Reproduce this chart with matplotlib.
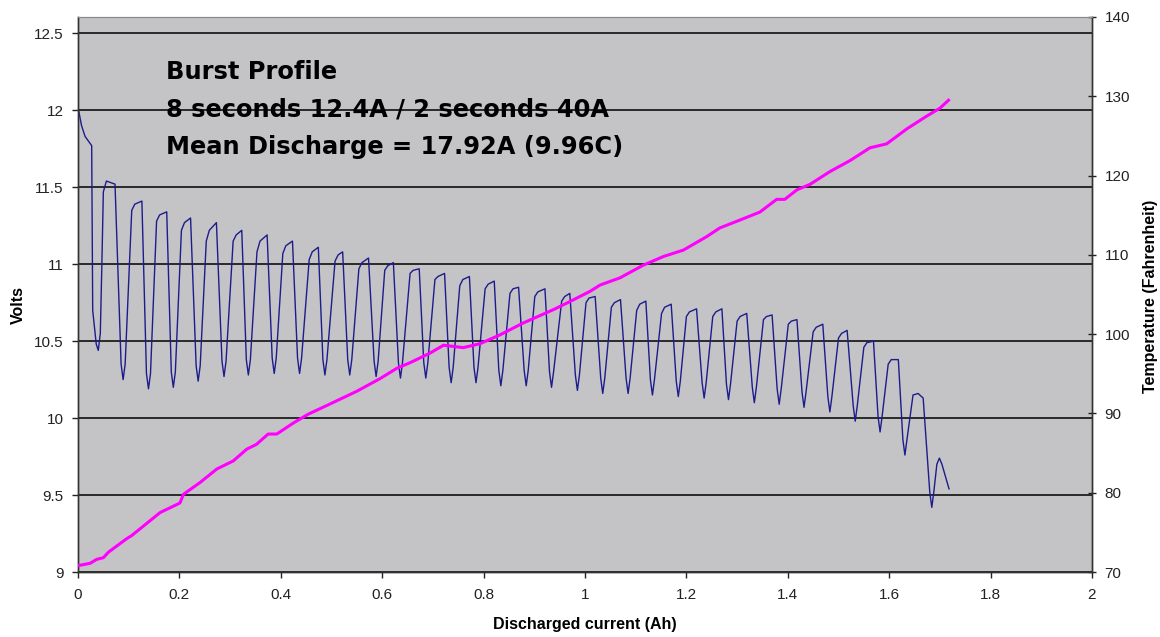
import matplotlib
matplotlib.use("Agg")
import matplotlib.pyplot as plt

# voltage trace (Ah, volts), one burst cycle per line
volt_ah = [0.000, 0.007, 0.014, 0.027, 0.029, 0.036, 0.040, 0.044, 0.047, 0.050, 0.056, 0.073,
           0.085, 0.089, 0.093, 0.106, 0.112, 0.126,
           0.135, 0.139, 0.143, 0.155, 0.161, 0.175,
           0.184, 0.188, 0.192, 0.204, 0.210, 0.222,
           0.233, 0.237, 0.241, 0.253, 0.259, 0.273,
           0.284, 0.288, 0.292, 0.306, 0.312, 0.323,
           0.332, 0.336, 0.340, 0.353, 0.359, 0.373,
           0.383, 0.387, 0.391, 0.404, 0.410, 0.423,
           0.433, 0.437, 0.441, 0.456, 0.462, 0.474,
           0.483, 0.487, 0.491, 0.507, 0.513, 0.522,
           0.532, 0.536, 0.540, 0.554, 0.560, 0.573,
           0.584, 0.588, 0.592, 0.605, 0.611, 0.622,
           0.632, 0.636, 0.640, 0.655, 0.661, 0.673,
           0.682, 0.686, 0.690, 0.704, 0.710, 0.723,
           0.732, 0.736, 0.740, 0.753, 0.759, 0.772,
           0.781, 0.785, 0.789, 0.803, 0.809, 0.821,
           0.830, 0.834, 0.838, 0.852, 0.858, 0.869,
           0.880, 0.884, 0.888, 0.901, 0.907, 0.921,
           0.930, 0.934, 0.938, 0.954, 0.960, 0.970,
           0.981, 0.985, 0.989, 1.002, 1.008, 1.020,
           1.031, 1.035, 1.039, 1.052, 1.058, 1.070,
           1.081, 1.085, 1.089, 1.102, 1.108, 1.120,
           1.129, 1.133, 1.137, 1.151, 1.157, 1.170,
           1.180, 1.184, 1.188, 1.200, 1.206, 1.220,
           1.231, 1.235, 1.239, 1.252, 1.258, 1.270,
           1.279, 1.283, 1.287, 1.300, 1.306, 1.319,
           1.330, 1.334, 1.338, 1.352, 1.358, 1.369,
           1.379, 1.383, 1.387, 1.401, 1.407, 1.418,
           1.428, 1.432, 1.436, 1.450, 1.456, 1.469,
           1.479, 1.483, 1.487, 1.500, 1.506, 1.517,
           1.529, 1.533, 1.537, 1.550, 1.556, 1.569,
           1.578, 1.582, 1.586, 1.598, 1.604, 1.618,
           1.627, 1.631, 1.635, 1.647, 1.657, 1.667,
           1.680, 1.684, 1.688, 1.694, 1.699, 1.704, 1.718]
volts = [12.02, 11.90, 11.83, 11.77, 10.70, 10.48, 10.44, 10.55, 10.99, 11.47, 11.54, 11.52,
         10.35, 10.25, 10.35, 11.35, 11.39, 11.41,
         10.29, 10.19, 10.29, 11.28, 11.32, 11.34,
         10.30, 10.20, 10.30, 11.22, 11.27, 11.30,
         10.34, 10.24, 10.34, 11.15, 11.22, 11.27,
         10.37, 10.27, 10.37, 11.15, 11.19, 11.22,
         10.38, 10.28, 10.38, 11.08, 11.15, 11.19,
         10.39, 10.29, 10.39, 11.07, 11.12, 11.15,
         10.39, 10.29, 10.39, 11.03, 11.08, 11.11,
         10.38, 10.28, 10.38, 11.02, 11.06, 11.08,
         10.38, 10.28, 10.38, 10.97, 11.01, 11.04,
         10.37, 10.27, 10.37, 10.96, 10.99, 11.01,
         10.36, 10.26, 10.36, 10.94, 10.96, 10.97,
         10.36, 10.26, 10.36, 10.90, 10.92, 10.94,
         10.33, 10.23, 10.33, 10.86, 10.90, 10.92,
         10.33, 10.23, 10.33, 10.84, 10.87, 10.89,
         10.31, 10.21, 10.31, 10.81, 10.84, 10.85,
         10.31, 10.21, 10.31, 10.79, 10.82, 10.84,
         10.30, 10.20, 10.30, 10.76, 10.79, 10.81,
         10.28, 10.18, 10.28, 10.75, 10.78, 10.79,
         10.26, 10.16, 10.26, 10.72, 10.75, 10.77,
         10.26, 10.16, 10.26, 10.70, 10.74, 10.76,
         10.25, 10.15, 10.25, 10.68, 10.72, 10.74,
         10.24, 10.14, 10.24, 10.66, 10.69, 10.71,
         10.23, 10.13, 10.23, 10.66, 10.69, 10.71,
         10.22, 10.12, 10.22, 10.63, 10.66, 10.68,
         10.20, 10.10, 10.20, 10.64, 10.66, 10.67,
         10.19, 10.09, 10.19, 10.61, 10.63, 10.64,
         10.17, 10.07, 10.17, 10.56, 10.59, 10.61,
         10.14, 10.04, 10.14, 10.52, 10.55, 10.57,
         10.08, 9.98, 10.08, 10.46, 10.49, 10.50,
         10.01, 9.91, 10.01, 10.35, 10.38, 10.38,
         9.86, 9.76, 9.86, 10.15, 10.16, 10.13,
         9.52, 9.42, 9.52, 9.70, 9.74, 9.70, 9.54]

# temperature trace (Ah, deg F)
temp_ah = [0.000, 0.024, 0.037, 0.050, 0.060, 0.096, 0.106, 0.162, 0.201, 0.208,
           0.241, 0.274, 0.306, 0.333, 0.352, 0.375, 0.392, 0.425, 0.454, 0.494,
           0.550, 0.596, 0.629, 0.655, 0.694, 0.721, 0.760, 0.793, 0.832, 0.878,
           0.938, 0.970, 1.010, 1.030, 1.069, 1.115, 1.155, 1.194, 1.240, 1.266,
           1.306, 1.345, 1.378, 1.394, 1.418, 1.444, 1.483, 1.523, 1.562, 1.595,
           1.635, 1.674, 1.700, 1.717]
temp_f = [70.8, 71.1, 71.6, 71.8, 72.5, 74.2, 74.6, 77.5, 78.7, 79.8,
          81.3, 83.0, 84.0, 85.5, 86.1, 87.4, 87.4, 88.8, 89.9, 91.1,
          92.8, 94.4, 95.7, 96.4, 97.6, 98.6, 98.3, 98.8, 99.9, 101.4,
          103.1, 104.1, 105.4, 106.2, 107.1, 108.7, 109.8, 110.6, 112.3, 113.4,
          114.4, 115.4, 117.0, 117.0, 118.2, 118.9, 120.5, 121.9, 123.5, 124.0,
          125.9, 127.5, 128.5, 129.5]

x_ticks = [0, 0.2, 0.4, 0.6, 0.8, 1.0, 1.2, 1.4, 1.6, 1.8, 2.0]
x_labels = ["0", "0.2", "0.4", "0.6", "0.8", "1", "1.2", "1.4", "1.6", "1.8", "2"]
v_ticks = [9, 9.5, 10, 10.5, 11, 11.5, 12, 12.5]
v_labels = ["9", "9.5", "10", "10.5", "11", "11.5", "12", "12.5"]
t_ticks = [70, 80, 90, 100, 110, 120, 130, 140]

title_lines = ["Burst Profile",
               "8 seconds 12.4A / 2 seconds 40A",
               "Mean Discharge = 17.92A (9.96C)"]

plt.rcParams["font.family"] = ["Liberation Sans", "DejaVu Sans"]

fig = plt.figure(figsize=(11.6, 6.37), dpi=100)
ax = fig.add_axes([78 / 1160, 65 / 637, (1092 - 78) / 1160, (572 - 17) / 637])
ax.set_facecolor("#c4c3c6")

ax.plot(volt_ah, volts, color="#1c1c8c", linewidth=1.0, zorder=3)
ax.set_xlim(0, 2)
ax.set_ylim(9, 12.606)
ax.set_xticks(x_ticks)
ax.set_xticklabels(x_labels)
ax.set_yticks(v_ticks)
ax.set_yticklabels(v_labels)
ax.yaxis.grid(True, color="black", linewidth=1.1)
ax.set_axisbelow(True)
ax.tick_params(axis="y", direction="out", length=4.5, width=1, pad=6,
               labelsize=11, colors="#222222")
ax.tick_params(axis="x", direction="out", length=4.5, width=1, pad=7,
               labelsize=11, colors="#222222")

ax2 = ax.twinx()
ax2.plot(temp_ah, temp_f, color="#ff00ff", linewidth=2.2, zorder=3)
ax2.set_ylim(70, 140)
ax2.set_yticks(t_ticks)
ax2.tick_params(axis="y", direction="inout", length=6, width=1, pad=6,
                labelsize=11, colors="#222222")

for a in (ax, ax2):
    for side in ("left", "bottom", "right"):
        a.spines[side].set_color("#333333")
        a.spines[side].set_linewidth(1.0)
    a.spines["top"].set_color("#8a8a8a")

for i, line in enumerate(title_lines):
    fig.text(166 / 1160, 1 - (79 + 37.5 * i) / 637, line, fontsize=17.4,
             fontweight="bold", family="DejaVu Sans", va="baseline", ha="left",
             zorder=10)

fig.text(585 / 1160, 1 - 625 / 637, "Discharged current (Ah)", fontsize=11.5,
         fontweight="bold", ha="center", va="center")
fig.text(18 / 1160, 1 - 305 / 637, "Volts", fontsize=11.5, fontweight="bold",
         rotation=90, ha="center", va="center")
fig.text(1150 / 1160, 1 - 296 / 637, "Temperature (Fahrenheit)", fontsize=11.5,
         fontweight="bold", rotation=90, ha="center", va="center")

fig.savefig("out.png", dpi=100)
